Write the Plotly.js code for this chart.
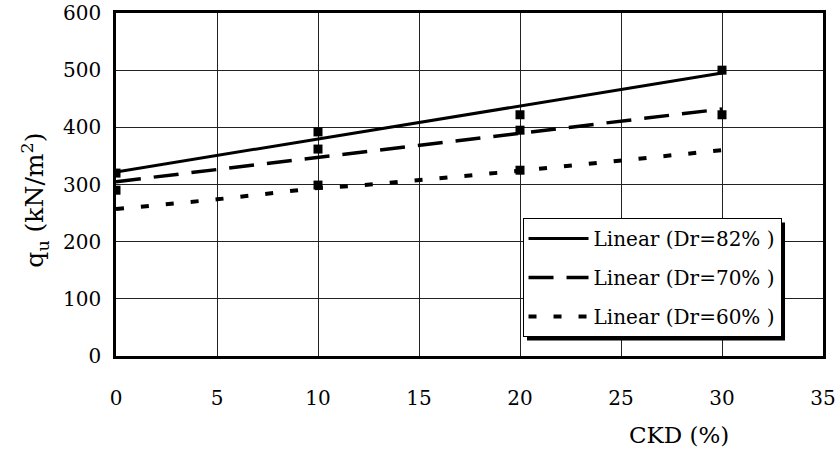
<!DOCTYPE html>
<html><head><meta charset="utf-8">
<script src="https://cdn.plot.ly/plotly-3.0.1.min.js"></script>
<style>body{margin:0;background:#fff}#c{width:837px;height:449px}</style>
</head><body><div id="c"></div>
<script>
// Measured points (CKD %, qu kN/m2)
const ckd = [0, 10, 20, 30];
const qu82 = [320, 392, 422, 500];
const qu70 = [290, 362, 395, 422];
const ckd60 = [10, 20];
const qu60 = [299, 325];
// Trend lines as drawn
const fitX82 = [0, 30];
const fit82 = [322, 495];
const fitX70 = [0, 30];
const fit70 = [305, 432];
const fitX60 = [0, 5, 10, 12, 20, 30];
const fit60 = [257, 274, 294, 298, 324, 360];
const names = ['Linear (Dr=82% )', 'Linear (Dr=70% )', 'Linear (Dr=60% )'];

const font = 'DejaVu Serif';
const mk = {symbol: 'square', size: 9, color: '#000'};
const traces = [
  {x: fitX82, y: fit82, mode: 'lines', name: names[0], legendgroup: 'a', line: {color: '#000', width: 3}},
  {x: fitX70, y: fit70, mode: 'lines', name: names[1], legendgroup: 'b', line: {color: '#000', width: 3.5, dash: '25px,13px'}},
  {x: fitX60, y: fit60, mode: 'lines', name: names[2], legendgroup: 'c', line: {color: '#000', width: 4, dash: '8px,17px'}},
  {x: ckd, y: qu82, mode: 'markers', marker: mk, showlegend: false},
  {x: ckd, y: qu70, mode: 'markers', marker: mk, showlegend: false},
  {x: ckd60, y: qu60, mode: 'markers', marker: mk, showlegend: false}
];
const layout = {
  width: 837, height: 449,
  margin: {l: 116, r: 14, t: 13, b: 93},
  paper_bgcolor: '#fff', plot_bgcolor: '#fff',
  font: {family: font, size: 20, color: '#000'},
  showlegend: true,
  xaxis: {range: [0, 35], dtick: 5, tick0: 0, showgrid: true, gridcolor: '#222', gridwidth: 1,
    showline: true, linecolor: '#000', linewidth: 2.5, mirror: true, zeroline: false,
    ticks: '', ticklabelstandoff: 22, tickfont: {family: font, size: 20}},
  yaxis: {range: [0, 600], dtick: 100, tick0: 0, showgrid: true, gridcolor: '#222', gridwidth: 1,
    showline: true, linecolor: '#000', linewidth: 2.5, mirror: true, zeroline: false,
    ticks: '', ticklabelstandoff: 8, tickfont: {family: font, size: 20}},
  legend: {x: 0.575, y: 0.402, xanchor: 'left', yanchor: 'top', bgcolor: '#fff',
    bordercolor: '#000', borderwidth: 1, font: {family: font, size: 20}, itemwidth: 60,
    tracegroupgap: 10, traceorder: 'grouped'},
  annotations: [
    {text: 'CKD (%)', xref: 'paper', yref: 'paper', x: 0.796, y: -0.23, xanchor: 'center', yanchor: 'middle',
      showarrow: false, font: {family: font, size: 23}},
    {text: 'q<sub>u</sub> (kN/m<sup>2</sup>)', xref: 'paper', yref: 'paper', x: -0.115, y: 0.455,
      xanchor: 'center', yanchor: 'middle', textangle: -90, showarrow: false, font: {family: font, size: 25}}
  ]
};
Plotly.newPlot('c', traces, layout, {displayModeBar: false}).then(gd => {
  const bg = gd.querySelector('.legend .bg');
  if (!bg) return;
  const r = bg.getBoundingClientRect();
  const fl = gd._fullLayout, xs = fl._size;
  const px = v => (v - xs.l) / xs.w, py = v => 1 - (v - xs.t) / xs.h;
  Plotly.relayout(gd, {shapes: [{type: 'rect', xref: 'paper', yref: 'paper', layer: 'above',
    x0: px(r.left + 4), x1: px(r.right + 4), y0: py(r.bottom + 4), y1: py(r.top + 4),
    fillcolor: '#000', line: {width: 0}}]});
});
</script></body></html>
